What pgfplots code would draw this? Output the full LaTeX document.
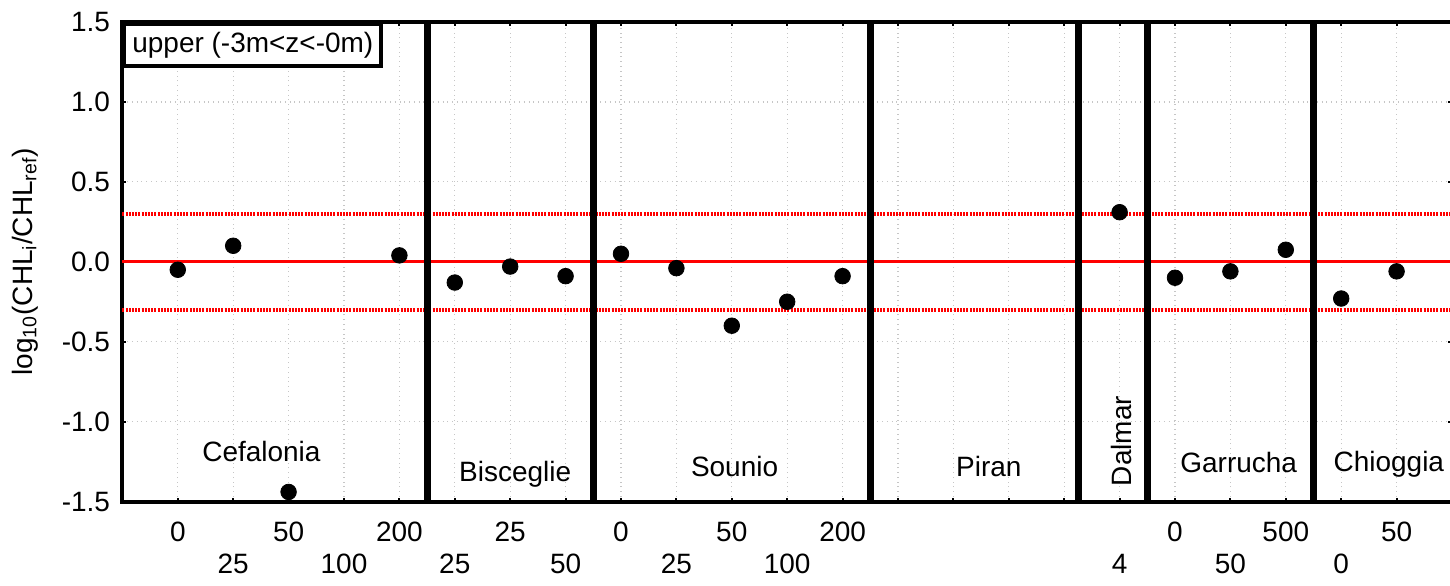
\documentclass[border=0pt]{standalone}
\usepackage{fontspec}
\setmainfont{Liberation Sans}
\usepackage{pgfplots}
\pgfplotsset{compat=1.18}

\newcommand{\lbl}{\fontsize{14bp}{16bp}\selectfont}

\begin{document}
\begin{tikzpicture}
\begin{axis}[
  name=ax,
  scale only axis,
  width=665.4bp, height=240bp,
  xmin=-1, xmax=23, ymin=-1.5, ymax=1.5,
  xtick={0,...,22},
  xticklabels={0,{\phantom{0}\\25},50,{\phantom{0}\\100},200,{\phantom{0}\\25},25,{\phantom{0}\\50},
               0,{\phantom{0}\\25},50,{\phantom{0}\\100},200,{},{},{},{},{\phantom{0}\\4},
               0,{\phantom{0}\\50},500,{\phantom{0}\\0},50},
  ytick={-1.5,-1,-0.5,0,0.5,1,1.5},
  /pgf/number format/assume math mode=true,
  y tick label style={/pgf/number format/.cd, fixed, fixed zerofill, precision=1, /tikz/.cd,
                      anchor=east, inner sep=0pt, xshift=-6bp, font=\lbl},
  x tick label style={align=center, anchor=north, inner sep=0pt, yshift=-10bp, font=\lbl},
  axis line style={line width=2bp},
  major tick length=2bp,
  tick style={black, line width=1bp},
  grid=major,
  major grid style={gray!45, dotted, line width=0.6bp},
  ylabel={log\textsubscript{10}(CHL\textsubscript{i}/CHL\textsubscript{ref})},
  ylabel style={at={(axis description cs:-0.0733,0.5)}, anchor=center, font=\lbl},
  clip=false,
]
% reference lines
\addplot[red, line width=1.5bp] coordinates {(-1,0) (23,0)};
\addplot[red, line width=2bp, dash pattern=on 1bp off 0.6bp] coordinates {(-1,0.301) (23,0.301)};
\addplot[red, line width=2bp, dash pattern=on 1bp off 0.6bp] coordinates {(-1,-0.301) (23,-0.301)};

% site separators
\pgfplotsinvokeforeach{4.5,7.5,12.5,16.26,17.5,20.5}{
  \draw[black, line width=3.5bp] (axis cs:#1,-1.5) -- (axis cs:#1,1.5);
}

% data
\addplot[only marks, mark=*, mark size=3.9bp, black] coordinates {
  (0,-0.05) (1,0.10) (2,-1.44) (4,0.04)
  (5,-0.13) (6,-0.03) (7,-0.09)
  (8,0.05) (9,-0.04) (10,-0.40) (11,-0.25) (12,-0.09)
  (17,0.31)
  (18,-0.10) (19,-0.06) (20,0.075)
  (21,-0.23) (22,-0.06)
};

% site names
\node[font=\lbl, anchor=base, inner sep=0pt] at (axis cs:1.51,-1.25) {Cefalonia};
\node[font=\lbl, anchor=base, inner sep=0pt] at (axis cs:6.09,-1.375) {Bisceglie};
\node[font=\lbl, anchor=base, inner sep=0pt] at (axis cs:10.05,-1.344) {Sounio};
\node[font=\lbl, anchor=base, inner sep=0pt] at (axis cs:14.64,-1.344) {Piran};
\node[font=\lbl, anchor=base west, rotate=90, inner sep=0pt] at (axis cs:17.22,-1.406) {Dalmar};
\node[font=\lbl, anchor=base, inner sep=0pt] at (axis cs:19.15,-1.32) {Garrucha};
\node[font=\lbl, anchor=base, inner sep=0pt] at (axis cs:21.86,-1.31) {Chioggia};

% depth layer box
\node[draw, line width=2bp, fill=white, anchor=north west, font=\lbl,
      inner xsep=4bp, inner ysep=3.75bp, text height=10.5bp, text depth=3bp]
  at (rel axis cs:0,1) {upper (-3m<z<-0m)};
\end{axis}
\pgfresetboundingbox
\path[use as bounding box] ([xshift=-61.25bp, yshift=-42bp]ax.south west) rectangle ([xshift=-1bp, yshift=11bp]ax.north east);
\end{tikzpicture}
\end{document}
